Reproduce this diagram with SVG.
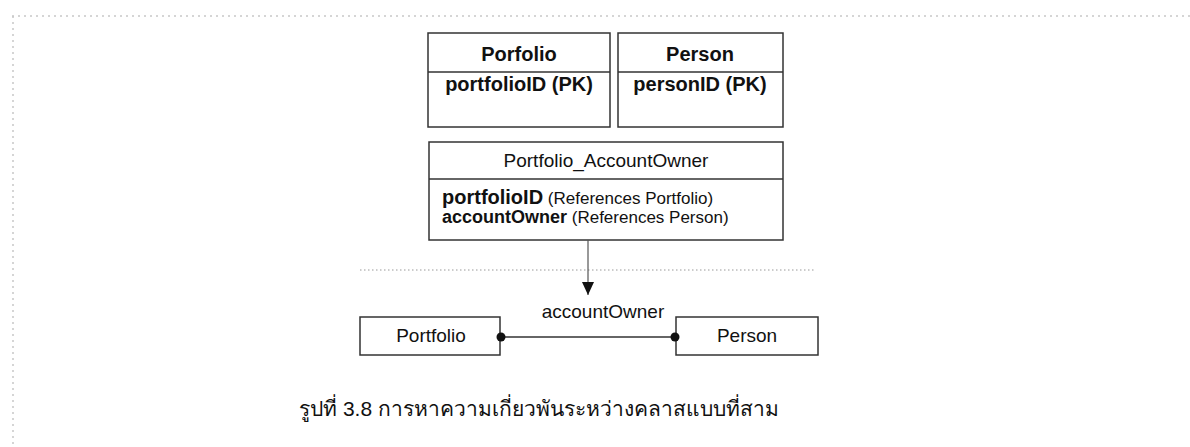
<svg xmlns="http://www.w3.org/2000/svg" width="1190" height="447" viewBox="0 0 1190 447">
<style>
.box{fill:#fff;stroke:#333;stroke-width:1.5}
.div{stroke:#333;stroke-width:1.5}
.t{font-family:"Liberation Sans",Arial,"Noto Sans",sans-serif;fill:#111}
.b{font-weight:bold}
.frame{stroke:#c8c8c8;stroke-width:1.5;stroke-dasharray:2 4;fill:none}
.sep{stroke:#999;stroke-width:1;stroke-dasharray:1.5 2.5}
.con{stroke:#555;stroke-width:1.2;fill:none}
</style>
<defs>
<marker id="arr" markerWidth="13" markerHeight="12" refX="13" refY="6" orient="auto" markerUnits="userSpaceOnUse" viewBox="0 0 13 12">
<path d="M0,0 L13,6 L0,12 Z" fill="#111"/>
</marker>
</defs>
<rect width="1190" height="447" fill="#fff"/>
<path class="frame" d="M12,16 H1190 M13,16 V447"/>
<line class="sep" x1="360" y1="270" x2="815" y2="270"/>

<g id="porfolio-table">
<rect class="box" x="428" y="33" width="182" height="94"/>
<line class="div" x1="428" y1="72" x2="610" y2="72"/>
<text class="t b" x="519" y="61" font-size="20" text-anchor="middle">Porfolio</text>
<text class="t b" x="519" y="91" font-size="20" text-anchor="middle">portfolioID (PK)</text>
</g>

<g id="person-table">
<rect class="box" x="618" y="33" width="165" height="94"/>
<line class="div" x1="618" y1="72" x2="783" y2="72"/>
<text class="t b" x="700" y="61" font-size="20" text-anchor="middle">Person</text>
<text class="t b" x="700" y="91" font-size="20" text-anchor="middle">personID (PK)</text>
</g>

<g id="portfolio-accountowner-table">
<rect class="box" x="429" y="142" width="354" height="98"/>
<line class="div" x1="429" y1="179" x2="783" y2="179"/>
<text class="t" x="606" y="167" font-size="19" text-anchor="middle">Portfolio_AccountOwner</text>
<text class="t" x="442" y="204" font-size="17"><tspan class="b" font-size="20">portfolioID</tspan> (References Portfolio)</text>
<text class="t" x="442" y="223" font-size="17"><tspan class="b" font-size="18">accountOwner</tspan> (References Person)</text>
</g>

<g id="portfolio-class">
<rect class="box" x="360" y="317" width="140" height="38"/>
<text class="t" x="431" y="342" font-size="19" text-anchor="middle">Portfolio</text>
</g>

<g id="person-class">
<rect class="box" x="676" y="317" width="142" height="38"/>
<text class="t" x="747" y="342" font-size="19" text-anchor="middle">Person</text>
</g>

<g id="connectors">
<line class="con" x1="588" y1="240" x2="588" y2="295" marker-end="url(#arr)"/>
<line x1="500" y1="337" x2="676" y2="337" stroke="#333" stroke-width="1.5"/>
<circle cx="501" cy="337" r="4.5" fill="#111"/>
<circle cx="675" cy="337" r="4.5" fill="#111"/>
<text class="t" x="603" y="318" font-size="19" text-anchor="middle">accountOwner</text>
</g>

<text class="t" x="539" y="416" font-size="21" text-anchor="middle" font-family="'Liberation Sans','Noto Sans','DejaVu Sans',sans-serif">รูปที่ 3.8 การหาความเกี่ยวพันระหว่างคลาสแบบที่สาม</text>
</svg>
